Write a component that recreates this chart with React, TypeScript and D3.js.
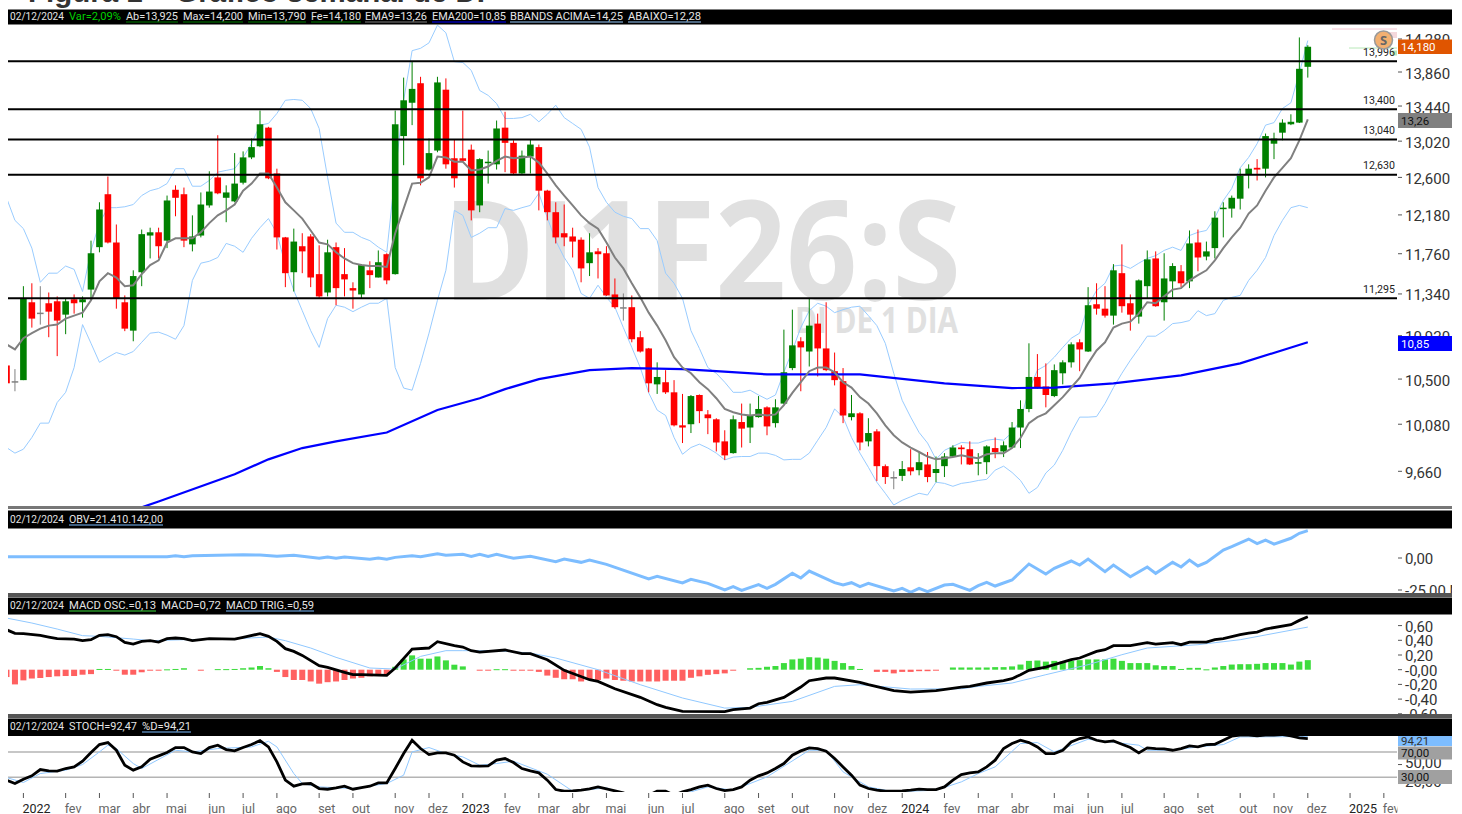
import React from "react";
import * as d3 from "d3";

// Weekly bars, the first two belong to the weeks cut by the left edge of the chart.
const opens = [10.63,10.48,
10.49,11.255,11.15,11.245,11.265,11.13,11.285,11.255,11.385,11.83,
12.41,11.88,11.255,10.97,11.565,11.955,11.99,11.90,12.46,12.41,
11.86,11.955,12.285,12.60,12.37,12.33,12.54,12.83,12.96,13.18,
12.645,11.935,11.565,11.84,11.945,11.545,11.355,11.83,11.545,11.40,
11.335,11.585,11.51,11.755,11.545,13.08,13.48,13.72,12.69,12.91,
13.64,12.82,12.82,12.92,12.285,12.77,12.75,13.18,13.00,12.645,
12.84,12.95,12.45,12.21,11.98,11.945,11.91,11.66,11.785,11.765,
11.335,11.205,11.205,10.905,10.795,10.45,10.47,10.375,10.07,10.08,
10.35,10.17,10.125,9.925,9.82,10.10,10.05,10.145,10.235,10.09,
10.27,10.605,10.865,10.765,11.04,10.795,10.575,10.48,10.145,10.18,
9.925,10.015,9.705,9.61,9.62,9.695,9.67,9.72,9.645,9.705,
9.79,9.87,9.855,9.73,9.74,9.865,9.835,9.87,10.05,10.22,
10.52,10.43,10.34,10.555,10.66,10.855,10.765,11.235,11.19,11.12,
11.555,11.245,11.11,11.42,11.71,11.255,11.47,11.575,11.47,11.88,
11.73,11.82,12.25,12.25,12.36,12.63,12.71,12.70,12.99,13.12,
13.22,13.24,13.925];
const highs = [10.63,10.595,
11.42,11.45,11.42,11.355,11.315,11.295,11.335,11.315,11.90,12.32,
12.61,12.075,11.325,11.585,12.02,12.04,12.04,12.395,12.51,12.485,
12.175,12.43,12.67,13.09,12.51,12.88,12.90,13.05,13.385,13.19,
12.70,11.94,12.03,11.98,11.97,11.85,11.91,11.88,11.82,11.46,
11.65,11.68,11.795,11.765,13.385,13.79,13.99,13.80,13.05,13.80,
13.78,13.04,13.385,12.98,12.82,12.91,13.265,13.37,13.03,12.91,
13.04,12.98,12.46,12.32,12.295,12.04,11.935,11.98,11.82,11.84,
11.50,11.345,11.325,10.965,10.80,10.66,10.585,10.49,10.36,10.35,
10.355,10.21,10.135,10.025,10.16,10.27,10.27,10.34,10.245,10.31,
10.98,11.18,10.905,11.295,11.14,11.255,10.755,10.605,10.35,10.19,
10.135,10.035,9.72,9.66,9.75,9.855,9.835,9.83,9.79,9.82,
9.89,9.89,9.925,9.82,9.89,9.96,9.925,10.10,10.30,10.845,
10.74,10.65,10.64,10.68,10.855,10.885,11.41,11.45,11.42,11.65,
11.86,11.335,11.49,11.795,11.785,11.765,11.66,11.64,12.01,12.02,
11.89,12.22,12.32,12.395,12.70,12.75,12.81,13.11,13.12,13.28,
13.34,14.30,14.20];
const lows = [10.46,10.385,
10.49,11.00,11.03,10.905,10.72,10.935,11.14,11.10,11.275,11.775,
11.87,11.19,10.965,10.865,11.42,11.71,11.71,11.82,12.165,11.83,
11.785,11.935,12.26,12.41,12.10,12.32,12.52,12.81,12.95,12.58,
11.805,11.41,11.365,11.555,11.41,11.295,11.315,11.225,11.315,11.19,
11.295,11.40,11.51,11.44,11.54,12.74,13.21,12.51,12.68,12.89,
12.70,12.485,12.78,12.12,12.21,12.53,12.69,12.66,12.63,12.64,
12.645,12.23,12.12,11.87,11.84,11.72,11.46,11.525,11.50,11.32,
11.19,11.07,10.855,10.755,10.375,10.36,10.36,10.06,9.91,10.0,
10.09,9.99,9.835,9.76,9.815,9.87,9.91,10.14,9.98,10.05,
10.265,10.585,10.385,10.62,10.525,10.575,10.44,10.09,10.115,9.845,
9.88,9.575,9.55,9.505,9.575,9.625,9.625,9.565,9.565,9.61,
9.785,9.72,9.715,9.625,9.635,9.775,9.785,9.865,9.865,10.19,
10.41,10.235,10.33,10.45,10.61,10.575,10.76,11.13,11.10,11.03,
11.15,10.97,11.04,11.295,11.21,11.07,11.305,11.41,11.40,11.575,
11.69,11.71,11.935,12.15,12.24,12.475,12.565,12.60,12.81,13.03,
13.21,13.235,13.79];
const closes = [10.46,10.48,
11.295,11.09,11.15,11.16,11.07,11.265,11.245,11.285,11.765,12.24,
11.88,11.295,10.99,11.525,11.97,11.99,11.84,12.34,12.37,11.90,
11.945,12.295,12.44,12.42,12.43,12.53,12.83,12.95,13.22,12.59,
11.935,11.555,11.89,11.785,11.51,11.315,11.775,11.40,11.49,11.375,
11.64,11.535,11.67,11.48,13.22,13.51,13.65,12.59,12.88,13.73,
12.75,12.59,12.79,12.23,12.81,12.78,13.17,13.00,12.645,12.85,
12.98,12.45,12.21,11.935,11.935,11.89,11.605,11.775,11.755,11.325,
11.205,11.205,10.885,10.765,10.46,10.52,10.375,10.07,10.05,10.34,
10.20,10.135,9.915,9.80,10.125,10.04,10.16,10.22,10.06,10.235,
10.565,10.825,10.805,11.02,10.795,10.585,10.49,10.16,10.18,9.915,
10.0,9.705,9.61,9.61,9.68,9.66,9.74,9.61,9.68,9.79,
9.87,9.855,9.72,9.74,9.88,9.83,9.89,10.05,10.22,10.52,
10.415,10.35,10.585,10.66,10.835,10.785,11.225,11.19,11.12,11.585,
11.215,11.13,11.48,11.70,11.215,11.50,11.63,11.45,11.87,11.72,
11.785,12.15,12.26,12.37,12.62,12.70,12.69,13.08,13.05,13.24,
13.25,13.90,14.18];

const bbUpper = [12.37,12.12,
12.03,11.82,11.46,11.555,11.555,11.63,11.595,11.365,11.795,12.09,
12.26,12.26,12.27,12.295,12.395,12.45,12.475,12.53,12.70,12.70,
12.50,12.50,12.565,12.66,12.68,12.70,12.83,12.99,13.21,13.23,
13.35,13.51,13.52,13.51,13.41,13.17,12.60,12.09,11.99,11.99,
11.935,11.90,11.83,11.775,12.645,13.51,14.13,14.16,14.23,14.46,
14.36,13.99,13.98,13.88,13.63,13.57,13.47,13.29,13.29,13.30,
13.34,13.25,13.34,13.45,13.30,13.23,13.16,12.95,12.485,12.32,
12.21,12.165,12.14,12.03,12.03,11.90,11.555,11.45,11.295,10.97,
10.795,10.61,10.555,10.47,10.375,10.375,10.395,10.35,10.31,10.35,
10.565,10.775,11.00,11.17,11.245,11.215,11.15,11.18,11.205,11.215,
11.12,11.02,10.845,10.555,10.30,10.145,10.005,9.91,9.765,9.845,
9.88,9.915,9.91,9.91,9.935,9.945,9.935,10.005,10.115,10.395,
10.585,10.63,10.71,10.805,10.895,10.945,11.225,11.375,11.45,11.63,
11.64,11.605,11.66,11.71,11.74,11.795,11.83,11.795,11.955,11.99,
12.01,12.15,12.34,12.475,12.71,12.83,12.99,13.21,13.24,13.41,
13.48,13.85,14.26];
const bbLower = [9.87,9.82,
9.855,9.96,10.09,10.09,10.28,10.375,10.61,11.03,10.845,10.66,
10.71,10.755,10.73,10.765,10.855,10.945,10.955,10.925,10.885,11.02,
11.48,11.66,11.68,11.72,11.87,11.84,11.775,11.925,12.04,12.14,
11.98,11.64,11.375,11.17,10.97,10.805,11.09,11.225,11.205,11.16,
11.205,11.245,11.245,11.295,10.61,10.415,10.395,10.65,10.945,11.275,
11.585,12.23,12.175,11.935,11.98,12.04,12.04,12.25,12.23,12.26,
12.285,12.42,12.15,11.90,11.72,11.585,11.345,11.295,11.43,11.305,
11.205,11.00,10.805,10.61,10.37,10.21,10.16,9.96,9.81,9.87,
9.90,9.865,9.82,9.76,9.785,9.79,9.79,9.82,9.82,9.80,
9.76,9.765,9.765,9.82,9.935,10.05,10.22,10.145,9.96,9.82,
9.695,9.565,9.47,9.37,9.41,9.44,9.47,9.455,9.565,9.555,
9.53,9.555,9.565,9.58,9.59,9.67,9.705,9.65,9.58,9.47,
9.52,9.645,9.715,9.845,10.005,10.145,10.145,10.15,10.27,10.42,
10.555,10.68,10.795,10.915,10.915,10.97,11.04,11.05,11.07,11.17,
11.12,11.14,11.275,11.305,11.325,11.48,11.585,11.72,11.955,12.12,
12.26,12.285,12.26];
const ema9 = [10.835,10.785,
10.895,10.945,10.99,11.02,11.03,11.09,11.12,11.15,11.275,11.47,
11.555,11.51,11.42,11.43,11.545,11.64,11.69,11.88,11.925,11.925,
11.925,11.99,12.09,12.175,12.23,12.295,12.45,12.53,12.645,12.645,
12.485,12.32,12.23,12.14,12.01,11.88,11.86,11.775,11.71,11.66,
11.64,11.63,11.63,11.62,11.98,12.25,12.53,12.54,12.60,12.84,
12.83,12.78,12.78,12.68,12.69,12.725,12.79,12.84,12.82,12.83,
12.84,12.77,12.645,12.51,12.395,12.285,12.175,12.09,12.03,11.88,
11.72,11.605,11.45,11.305,11.15,11.02,10.875,10.71,10.61,10.555,
10.47,10.405,10.32,10.22,10.19,10.17,10.16,10.17,10.16,10.17,
10.255,10.37,10.47,10.575,10.61,10.61,10.565,10.47,10.42,10.33,
10.27,10.18,10.07,9.98,9.915,9.87,9.83,9.79,9.765,9.775,
9.785,9.80,9.785,9.775,9.81,9.82,9.82,9.865,9.955,10.09,
10.145,10.18,10.255,10.33,10.42,10.51,10.65,10.775,10.855,11.00,
11.04,11.06,11.14,11.255,11.245,11.315,11.385,11.40,11.48,11.535,
11.585,11.69,11.82,11.935,12.04,12.195,12.285,12.45,12.60,12.71,
12.82,13.03,13.28];

const ema200Bars = [14,16,25,29,33,37,43,49,54,57,61,67,72,78,82,88,99,109,117,122,129,137,144,152];
const ema200Vals = [9.35,9.40,9.635,9.765,9.865,9.925,10.005,10.21,10.32,10.405,10.50,10.585,10.605,10.595,10.575,10.545,10.545,10.46,10.415,10.42,10.46,10.535,10.65,10.855];

const priceLevels = [13.996,13.4,13.04,12.63,11.295];
const priceLevelLabels = ["13,996","13,400","13,040","12,630","11,295"];
const priceTicks = [14.28,13.86,13.44,13.02,12.6,12.18,11.76,11.34,10.92,10.5,10.08,9.66];
const priceTickLabels = ["14,280","13,860","13,440","13,020","12,600","12,180","11,760","11,340","10,920","10,500","10,080","9,660"];

const obvBars = [-2,17,18,19,20,26,28,30,32,34,35,36,37,38,39,41,42,43,44,46,47,49,50,52,53,54,55,56,58,60,63,64,66,67,69,74,75,78,79,81,83,84,85,87,88,89,91,92,93,96,97,98,99,100,103,104,105,106,107,109,110,112,113,114,115,117,119,121,122,124,125,126,128,129,131,133,134,136,137,138,139,140,142,143,145,146,147,148,150,151,152];
const obvVals = [1.04,1.04,1.82,1.04,1.8,2.6,2.34,1.3,2.08,0.52,-0.26,0.78,-0.26,0.78,0.26,-1.04,0,-1.04,0.5,1.82,1.04,3.38,2.08,2.86,1.3,2.86,1.3,2.86,-0.26,1.3,-2.87,-0.79,-3.39,-1.57,-4.95,-16.4,-14.3,-19.5,-16.7,-19.8,-25,-22.4,-25.3,-20.8,-23.7,-20.6,-12,-15.6,-10.2,-19.3,-21.1,-19.3,-22.4,-19.8,-25.8,-23.7,-26.8,-23.7,-26.3,-21.1,-20.6,-25.3,-21.6,-19,-21.9,-17.2,-4.7,-12.5,-8.1,-2.35,-5.5,-0.8,-10.7,-5.5,-14.6,-7,-12,-3.4,-7,-1.6,-6.25,-3.4,6.25,8.85,14.8,11.2,14,10.9,15.4,19.3,21.41];

const macdBars = [-2,-1,0,2,3,4,6,7,8,9,10,11,12,13,14,15,16,17,18,19,20,21,22,25,26,28,29,30,31,32,33,35,36,38,39,40,43,44,46,48,49,51,52,53,54,57,59,60,62,64,67,68,70,73,75,76,78,83,84,86,87,88,90,92,93,95,96,99,100,103,105,108,111,112,114,116,117,118,119,121,124,125,127,128,129,131,133,134,136,137,138,140,141,142,144,145,146,147,150,151,152];
const macdVals = [.544,.494,.49,.467,.444,.422,.417,.395,.408,.467,.476,.449,.372,.349,.385,.395,.376,.422,.431,.422,.395,.408,.422,.417,.44,.49,.454,.385,.286,.249,.195,.054,.032,-.036,-.068,-.068,-.077,.023,.281,.295,.381,.327,.308,.259,.24,.268,.218,.218,.136,-.009,-.136,-.159,-.259,-.376,-.476,-.512,-.567,-.571,-.544,-.522,-.463,-.444,-.376,-.236,-.15,-.113,-.113,-.172,-.204,-.286,-.304,-.286,-.236,-.227,-.181,-.15,-.122,-.068,-.009,.036,.136,.159,.249,.272,.327,.327,.367,.349,.367,.34,.376,.376,.408,.422,.476,.499,.512,.553,.612,.671,.72];
const trigBars = [-2,1,4,7,9,13,15,19,25,29,31,34,37,41,44,47,50,52,56,60,63,68,73,78,83,86,91,96,99,105,111,113,117,121,126,130,133,139,144,152];
const trigVals = [.703,.635,.553,.463,.454,.417,.395,.408,.422,.444,.395,.295,.168,.023,.009,.181,.259,.259,.259,.227,.159,0,-.204,-.385,-.522,-.512,-.431,-.227,-.204,-.263,-.259,-.227,-.181,-.068,.068,.204,.295,.34,.408,.58];
const macdOsc = [-.1,-.2,
-.145,-.12,-.113,-.1,-.09,-.086,-.086,-.068,-.06,.01,
.01,-.005,-.068,-.068,-.035,-.01,-.01,.005,.01,.02,
0,-.007,0,.008,.008,.01,.02,.03,.05,.02,
-.03,-.1,-.14,-.14,-.16,-.19,-.17,-.16,-.14,-.12,
-.11,-.09,-.08,-.07,.04,.14,.195,.15,.15,.18,
.127,.068,.045,0,-.01,-.007,.007,.007,-.005,-.005,
-.005,-.03,-.08,-.11,-.13,-.13,-.16,-.14,-.14,-.12,
-.14,-.15,-.16,-.16,-.16,-.16,-.15,-.15,-.15,-.11,
-.09,-.07,-.06,-.05,-.01,0,.02,.025,.04,.05,
.09,.14,.15,.17,.165,.15,.12,.09,.05,.01,
0,-.03,-.03,-.05,-.03,-.03,-.02,-.02,-.01,0,
.03,.03,.03,.03,.03,.035,.035,.045,.07,.12,
.125,.11,.12,.11,.12,.13,.14,.14,.14,.15,
.12,.09,.09,.09,.06,.05,.05,.01,.025,.025,
.005,.03,.05,.07,.075,.075,.08,.09,.09,.09,
.07,.11,.13];

const stochK = [25.3,20,
26.8,32.1,42.1,40,39.5,43.7,46.3,55.3,69,81.6,
84.8,72.6,48.9,41.1,46.3,58.4,63.7,69,76.9,76.9,
70,67.4,76.9,80.6,73.7,71.6,76.9,81.6,87.9,77.9,
54.2,25.3,15.8,19.5,20,12.1,11,13.1,15.8,11,
13.7,15.8,21,21,43.7,67.4,88.4,75.3,65.8,68.4,
68.4,64.7,54.2,47.9,47.4,47.9,56.9,59.5,53.2,43.7,
40,36.8,25.3,10.5,7.9,8.4,9.5,11.6,14.7,11.6,
8.4,5.2,0,0,1.6,7.9,7.9,1.6,6.8,10.5,
14.7,17.4,12.1,8.9,10.5,14.7,25.3,32.1,36.8,43.7,
51.6,64.7,71.6,76.3,75.3,71.1,59.5,46.3,33.2,17.4,
12.1,9.5,7.9,7.9,8.4,9.5,11,10.5,10.5,14.7,
25.3,34.2,36.8,38.4,46.3,56.9,75.3,83.2,88.4,84.8,
77.9,67.4,67.4,72.6,85.8,91.1,93.7,88.4,85.8,87.4,
82.1,76.9,68.4,76.3,75.3,74.8,72.6,75.3,79.5,77.9,
81.6,82.1,88.4,94.8,96.4,96.4,95.3,96.4,96.4,97.4,
95.3,92.1,91];
const stochDBars = [-2,0,2,5,7,9,10,11,13,14,18,20,23,27,29,30,32,33,35,39,43,45,46,48,50,52,54,56,58,62,65,69,71,75,79,81,84,88,93,95,97,100,103,108,111,113,115,118,120,122,126,132,133,136,139,142,144,152];
const stochDVals = [29.5,21.6,35.8,41.1,50,70,80.6,75.3,51.6,43.7,72.6,70,75.3,77.9,86.8,77.9,35.8,20,14.7,12.1,20,33.2,70,76.9,67.4,62.1,48.9,51.6,55.3,34.7,7.9,13.1,4.5,0,6.8,14.7,9.5,30.5,72.6,72.6,38.4,14.7,6.8,9.5,22.6,35.8,46.3,83.2,84.8,70,90,80.6,72.6,72.6,77.9,81.6,93.7,94.21];

const monthBars = [0,5,9,13,17,22,26,30,35,39,44,48,52,57,61,65,69,74,78,83,87,91,96,100,104,109,113,117,122,126,130,135,139,144,148,152,157,161];
const monthLabels = ["2022","fev","mar","abr","mai","jun","jul","ago","set","out","nov","dez","2023","fev","mar","abr","mai","jun","jul","ago","set","out","nov","dez","2024","fev","mar","abr","mai","jun","jul","ago","set","out","nov","dez","2025","fev"];

const obvTicks = [0,-25];
const obvTickLabels = ["0,00","-25,00 M"];
const macdTicks = [.6,.4,.2,0,-.2,-.4,-.6];
const macdTickLabels = ["0,60","0,40","0,20","-0,00","-0,20","-0,40","-0,60"];
const stochTicks = [50,20];
const stochTickLabels = ["50,00","20,00"];

const barIndex = d3.range(-2, 153);
const LEFT = 8, PLOT_R = 1397.5, RIGHT = 1452;

const x = d3.scaleLinear().domain([0, 152]).range([23.4, 1307.8]);
const yP = d3.scaleLog().domain([9.66, 13.86]).range([471.3, 72]);
const yO = d3.scaleLinear().domain([-25, 0]).range([590, 558]);
const yM = d3.scaleLinear().domain([-.6, .6]).range([713.8, 625.6]);
const yS = d3.scaleLinear().domain([30, 70]).range([777.2, 751.9]);

const SANS = "'Open Sans', 'Liberation Sans', sans-serif";
const ROBOTO = "Roboto, 'Open Sans', sans-serif";

type Seg = { t: string; x0: number; x1: number; fill?: string; u?: string };

function Header({ y, h, base, segs }: { y: number; h: number; base: number; segs: Seg[] }) {
  return (
    <g>
      <rect x={LEFT} y={y} width={RIGHT - LEFT} height={h} fill="#000" />
      {segs.map((s, i) => (
        <g key={i}>
          <text x={s.x0} y={base} fontFamily={ROBOTO} fontSize={11.5} fill={s.fill ?? "#e4e4e4"}
            textLength={s.x1 - s.x0} lengthAdjust="spacingAndGlyphs">{s.t}</text>
          {s.u && <line x1={s.x0} x2={s.x1} y1={base + 2} y2={base + 2} stroke={s.u} strokeWidth={1} />}
        </g>
      ))}
    </g>
  );
}

function AxisLabels({ ticks, labels, y, dy = 6 }: { ticks: number[]; labels: string[]; y: (v: number) => number; dy?: number }) {
  return (
    <g>
      {ticks.map((t, i) => (
        <g key={i}>
          <line x1={1398} x2={1402} y1={y(t)} y2={y(t)} stroke="#555" strokeWidth={1} />
          <text x={1405} y={y(t) + dy} fontFamily={ROBOTO} fontSize={15} fill="#333">{labels[i]}</text>
        </g>
      ))}
    </g>
  );
}

function Tag({ y, h, fill, text, color }: { y: number; h: number; fill: string; text: string; color: string }) {
  return (
    <g>
      <rect x={1398} y={y} width={RIGHT - 1398} height={h} fill={fill} />
      <text x={1401} y={y + h / 2 + 4} fontFamily={ROBOTO} fontSize={11.5} fill={color}>{text}</text>
    </g>
  );
}

export default function App() {
  const lineBars = d3.line<number>().x((_, i) => x(barIndex[i]));
  const priceLine = (vals: number[]) => lineBars.y((v) => yP(v))(vals) ?? "";
  const sparse = (bars: number[], vals: number[], y: (v: number) => number) =>
    d3.line<number>().x((b) => x(b)).y((_, i) => y(vals[i]))(bars) ?? "";
  const bw = 6.6;

  return (
    <svg width={1462} height={814} style={{ position: "absolute", left: 0, top: 0, display: "block", background: "#fff" }}>
      <defs>
        <clipPath id="cMain"><rect x={LEFT} y={24} width={PLOT_R - LEFT} height={483} /></clipPath>
        <clipPath id="cObv"><rect x={LEFT} y={528} width={PLOT_R - LEFT} height={66} /></clipPath>
        <clipPath id="cMacd"><rect x={LEFT} y={614} width={PLOT_R - LEFT} height={101} /></clipPath>
        <clipPath id="cStoch"><rect x={LEFT} y={736} width={PLOT_R - LEFT} height={56} /></clipPath>
        <clipPath id="cObvAxis"><rect x={1397} y={528} width={55} height={65} /></clipPath>
        <clipPath id="cMacdAxis"><rect x={1397} y={614} width={55} height={100} /></clipPath>
        <clipPath id="cStochAxis"><rect x={1397} y={736} width={55} height={56} /></clipPath>
        <clipPath id="cPriceAxis"><rect x={1397} y={24} width={55} height={483} /></clipPath>
        <clipPath id="cTime"><rect x={LEFT} y={790} width={PLOT_R - LEFT} height={24} /></clipPath>
      </defs>

      <text x={28} y={2} fontFamily="'Liberation Sans', sans-serif" fontWeight={700} fontSize={29} fill="#333"
        textLength={457} lengthAdjust="spacingAndGlyphs">Figura 1 – Gráfico semanal de DI</text>

      {/* Watermark */}
      <text x={443} y={300} fontFamily="'Open Sans', sans-serif" fontWeight={700} fontSize={138} fill="#e0e0e0"
        textLength={518} lengthAdjust="spacingAndGlyphs">DI1F26:S</text>
      <text x={795} y={333} fontFamily="'Open Sans', sans-serif" fontWeight={700} fontSize={36} fill="#e0e0e0"
        textLength={163} lengthAdjust="spacingAndGlyphs">DI DE 1 DIA</text>

      <g clipPath="url(#cMain)">
        <path d={priceLine(bbUpper)} fill="none" stroke="#99ccff" strokeWidth={1} />
        <path d={priceLine(bbLower)} fill="none" stroke="#99ccff" strokeWidth={1} />
        {barIndex.map((b, i) => {
          const o = opens[i], c = closes[i];
          const col = c > o ? "#008000" : c < o ? "#ff0000" : "#808080";
          const top = yP(Math.max(o, c)), bot = yP(Math.min(o, c));
          return (
            <g key={b}>
              <line x1={x(b)} x2={x(b)} y1={yP(highs[i])} y2={yP(lows[i])} stroke={col} strokeWidth={1} />
              <rect x={x(b) - bw / 2} y={top} width={bw} height={Math.max(bot - top, 1.5)} fill={col} />
            </g>
          );
        })}
        <path d={sparse(ema200Bars, ema200Vals, yP)} fill="none" stroke="#0000ff" strokeWidth={2.2} />
        <path d={priceLine(ema9)} fill="none" stroke="#808080" strokeWidth={2} />
        {/* Alert marks behind the coin */}
        <line x1={1332} x2={1397} y1={29} y2={29} stroke="#f4c4d0" strokeWidth={1} />
        <line x1={1349} x2={1397} y1={48} y2={48} stroke="#b8e8b8" strokeWidth={1} />
        <line x1={1392} x2={1397} y1={53} y2={53} stroke="#b8e8b8" strokeWidth={5} />
        <line x1={1389} x2={1397} y1={35} y2={35} stroke="#f4d8dc" strokeWidth={6} />
      </g>

      {priceLevels.map((v, i) => (
        <g key={v}>
          <line x1={LEFT} x2={1397} y1={yP(v)} y2={yP(v)} stroke="#000" strokeWidth={2} />
          <text x={1395} y={yP(v) - 5.5} textAnchor="end" fontFamily={ROBOTO} fontSize={11.5} fill="#222"
            textLength={32} lengthAdjust="spacingAndGlyphs">{priceLevelLabels[i]}</text>
        </g>
      ))}

      <g clipPath="url(#cPriceAxis)">
        <AxisLabels ticks={priceTicks} labels={priceTickLabels} y={yP} dy={6.5} />
      </g>
      <Tag y={39.5} h={14.5} fill="#e05500" text="14,180" color="#fff" />
      <Tag y={113} h={15} fill="#808080" text="13,26" color="#111" />
      <Tag y={336} h={15} fill="#0000ff" text="10,85" color="#fff" />

      <g>
        <circle cx={1383.5} cy={40} r={9} fill="#f2b071" stroke="#999" strokeWidth={1.5} />
        <text x={1383.5} y={45} textAnchor="middle" fontFamily={SANS} fontWeight={700} fontSize={13} fill="#666">S</text>
      </g>

      <Header y={9.5} h={15} base={20} segs={[
        { t: "02/12/2024", x0: 10, x1: 64 },
        { t: "Var=2,09%", x0: 69, x1: 121, fill: "#00d000" },
        { t: "Ab=13,925", x0: 126, x1: 178, u: "#008000" },
        { t: "Max=14,200", x0: 183, x1: 243, u: "#008000" },
        { t: "Min=13,790", x0: 248, x1: 306, u: "#008000" },
        { t: "Fe=14,180", x0: 311, x1: 361, u: "#008000" },
        { t: "EMA9=13,26", x0: 365, x1: 427, u: "#808080" },
        { t: "EMA200=10,85", x0: 432, x1: 506, u: "#0000ff" },
        { t: "BBANDS ACIMA=14,25", x0: 510, x1: 623, u: "#99ccff" },
        { t: "ABAIXO=12,28", x0: 628, x1: 701, u: "#99ccff" },
      ]} />

      {/* OBV */}
      <rect x={LEFT} y={506} width={RIGHT - LEFT} height={3} fill="#777" />
      <g clipPath="url(#cObv)">
        <path d={sparse(obvBars, obvVals, yO)} fill="none" stroke="#7dbdff" strokeWidth={3} />
      </g>
      <g clipPath="url(#cObvAxis)">
        <AxisLabels ticks={obvTicks} labels={obvTickLabels} y={yO} />
      </g>
      <Header y={510.5} h={18} base={523} segs={[
        { t: "02/12/2024", x0: 10, x1: 64 },
        { t: "OBV=21.410.142,00", x0: 69, x1: 163, u: "#7dbdff" },
      ]} />

      {/* MACD */}
      <rect x={LEFT} y={593} width={RIGHT - LEFT} height={4} fill="#555" />
      <g clipPath="url(#cMacd)">
        {barIndex.map((b, i) => {
          const v = macdOsc[i];
          if (!v) return null;
          const y0 = yM(0), y1 = yM(v);
          return (
            <rect key={b} x={x(b) - 3} y={Math.min(y0, y1)} width={6} height={Math.max(Math.abs(y1 - y0), 1)}
              fill={v > 0 ? "#3ddc3d" : "#ff6060"} />
          );
        })}
        <path d={sparse(trigBars, trigVals, yM)} fill="none" stroke="#90c8ff" strokeWidth={1} />
        <path d={sparse(macdBars, macdVals, yM)} fill="none" stroke="#000" strokeWidth={2.8} />
      </g>
      <g clipPath="url(#cMacdAxis)">
        <AxisLabels ticks={macdTicks} labels={macdTickLabels} y={yM} />
      </g>
      <Header y={597.5} h={17} base={609} segs={[
        { t: "02/12/2024", x0: 10, x1: 64 },
        { t: "MACD OSC.=0,13", x0: 69, x1: 156, u: "#3ddc3d" },
        { t: "MACD=0,72", x0: 161, x1: 221 },
        { t: "MACD TRIG.=0,59", x0: 226, x1: 314, u: "#7dbdff" },
      ]} />

      {/* Stochastic */}
      <rect x={LEFT} y={714} width={RIGHT - LEFT} height={4} fill="#555" />
      <line x1={LEFT} x2={1397} y1={yS(70)} y2={yS(70)} stroke="#b4b4b4" strokeWidth={1.5} />
      <line x1={LEFT} x2={1397} y1={yS(30)} y2={yS(30)} stroke="#b4b4b4" strokeWidth={1.5} />
      <g clipPath="url(#cStoch)">
        <path d={sparse(stochDBars, stochDVals, yS)} fill="none" stroke="#90c8ff" strokeWidth={1} />
        <path d={lineBars.y((v) => yS(v))(stochK) ?? ""} fill="none" stroke="#000" strokeWidth={2.8} />
      </g>
      <g clipPath="url(#cStochAxis)">
        <AxisLabels ticks={stochTicks} labels={stochTickLabels} y={yS} dy={3} />
      </g>
      <Tag y={736} h={10} fill="#7dbdff" text="94,21" color="#333" />
      <Tag y={746.5} h={13} fill="#a0a0a0" text="70,00" color="#111" />
      <Tag y={770} h={14} fill="#a0a0a0" text="30,00" color="#111" />
      <Header y={718.5} h={17.5} base={730} segs={[
        { t: "02/12/2024", x0: 10, x1: 64 },
        { t: "STOCH=92,47", x0: 69, x1: 137 },
        { t: "%D=94,21", x0: 142, x1: 191, u: "#7dbdff" },
      ]} />

      {/* Time axis */}
      <g clipPath="url(#cTime)">
        {monthBars.map((b, i) => {
          const isYear = /^\d/.test(monthLabels[i]);
          return (
            <g key={b}>
              <line x1={x(b)} x2={x(b)} y1={793} y2={798} stroke="#555" strokeWidth={1} />
              <text x={x(b) - 1} y={812.5} fontFamily={ROBOTO} fontSize={12.5} fill={isYear ? "#222" : "#666"}>{monthLabels[i]}</text>
            </g>
          );
        })}
      </g>
    </svg>
  );
}
